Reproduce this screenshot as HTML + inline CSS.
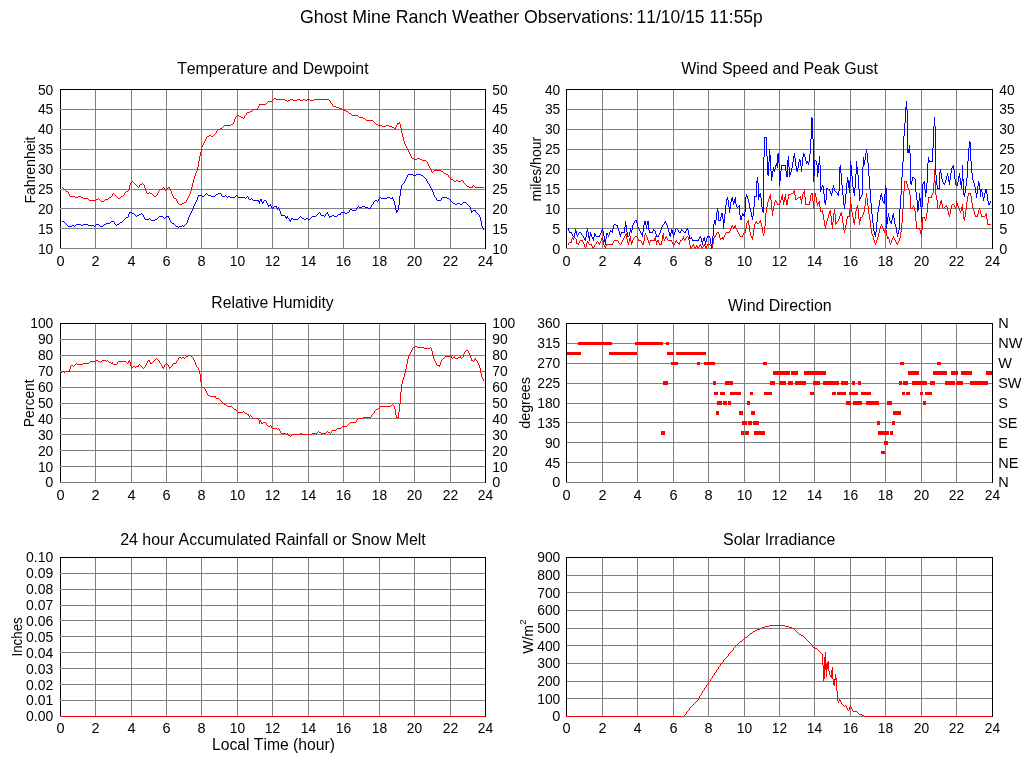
<!DOCTYPE html>
<html><head><meta charset="utf-8"><title>Ghost Mine Ranch Weather Observations</title>
<style>html,body{margin:0;padding:0;background:#fff;overflow:hidden}svg{display:block}text{font-family:"Liberation Sans",sans-serif;fill:#000;font-kerning:none}.t{font-size:14.5px}.h{font-size:16px}.y{font-size:14px}</style></head><body>
<svg width="1024" height="768" viewBox="0 0 1024 768">
<rect width="1024" height="768" fill="#fff"/>
<g shape-rendering="crispEdges" fill="none" stroke-width="1">
<path d="M95.5 90V249M131.5 90V249M166.5 90V249M201.5 90V249M237.5 90V249M272.5 90V249M308.5 90V249M343.5 90V249M379.5 90V249M414.5 90V249M450.5 90V249M60 248.5H485M61 228.5H485M61 208.5H485M61 189.5H485M61 169.5H485M61 149.5H485M61 129.5H485M61 109.5H485" stroke="#808080"/>
<path d="M602.5 90V249M637.5 90V249M673.5 90V249M708.5 90V249M744.5 90V249M779.5 90V249M814.5 90V249M850.5 90V249M885.5 90V249M921.5 90V249M956.5 90V249M566 248.5H992M567 228.5H992M567 208.5H992M567 189.5H992M567 169.5H992M567 149.5H992M567 129.5H992M567 109.5H992" stroke="#808080"/>
<path d="M95.5 324V483M131.5 324V483M166.5 324V483M201.5 324V483M237.5 324V483M272.5 324V483M308.5 324V483M343.5 324V483M379.5 324V483M414.5 324V483M450.5 324V483M60 482.5H485M61 466.5H485M61 450.5H485M61 434.5H485M61 418.5H485M61 403.5H485M61 387.5H485M61 371.5H485M61 355.5H485M61 339.5H485" stroke="#808080"/>
<path d="M602.5 324V483M637.5 324V483M673.5 324V483M708.5 324V483M744.5 324V483M779.5 324V483M814.5 324V483M850.5 324V483M885.5 324V483M921.5 324V483M956.5 324V483M566 482.5H992M567 462.5H992M567 442.5H992M567 422.5H992M567 403.5H992M567 383.5H992M567 363.5H992M567 343.5H992" stroke="#808080"/>
<path d="M95.5 558V717M131.5 558V717M166.5 558V717M201.5 558V717M237.5 558V717M272.5 558V717M308.5 558V717M343.5 558V717M379.5 558V717M414.5 558V717M450.5 558V717M60 716.5H485M61 700.5H485M61 684.5H485M61 668.5H485M61 652.5H485M61 636.5H485M61 620.5H485M61 605.5H485M61 589.5H485M61 573.5H485" stroke="#808080"/>
<path d="M602.5 558V717M637.5 558V717M673.5 558V717M708.5 558V717M744.5 558V717M779.5 558V717M814.5 558V717M850.5 558V717M885.5 558V717M921.5 558V717M956.5 558V717M566 716.5H992M567 698.5H992M567 681.5H992M567 663.5H992M567 645.5H992M567 628.5H992M567 610.5H992M567 592.5H992M567 575.5H992" stroke="#808080"/>
</g>
<g fill="none" stroke-width="1" stroke-linejoin="round" shape-rendering="crispEdges">
<path d="M568 228v3h1v-3zM569 231v2h1v-2zM571 232v2h1v-2zM572 234v2h1v-2zM574 233v4h1v-4zM575 229v4h1v-4zM576 231v4h1v-4zM577 235v2h1v-2zM578 233v2h1v-2zM581 233v2h1v-2zM583 236v2h1v-2zM584 238v2h1v-2zM585 237v4h1v-4zM586 231v6h1v-6zM587 228v4h1v-4zM588 232v6h1v-6zM589 236v5h1v-5zM590 232v4h1v-4zM591 234v3h1v-3zM592 237v2h1v-2zM593 237v4h1v-4zM594 233v4h1v-4zM595 234v2h1v-2zM599 235v2h1v-2zM600 233v2h1v-2zM601 230v3h1v-3zM602 228v3h1v-3zM603 231v5h1v-5zM604 236v6h1v-6zM605 239v6h1v-6zM606 233v6h1v-6zM607 233v2h1v-2zM608 235v2h1v-2zM609 232v3h1v-3zM610 230v2h1v-2zM612 229v4h1v-4zM613 225v4h1v-4zM617 225v3h1v-3zM618 228v3h1v-3zM619 231v4h1v-4zM620 234v3h1v-3zM621 232v2h1v-2zM624 227v6h1v-6zM625 221v6h1v-6zM626 225v7h1v-7zM627 232v5h1v-5zM629 232v4h1v-4zM630 228v4h1v-4zM631 230v3h1v-3zM632 225v5h1v-5zM633 223v2h1v-2zM634 221v2h1v-2zM636 220v3h1v-3zM637 223v4h1v-4zM638 227v2h1v-2zM639 229v2h1v-2zM640 231v2h1v-2zM641 233v2h1v-2zM642 232v5h1v-5zM643 225v7h1v-7zM644 221v4h1v-4zM645 221v4h1v-4zM646 225v4h1v-4zM647 221v4h1v-4zM648 221v9h1v-9zM649 230v3h1v-3zM652 231v2h1v-2zM653 229v2h1v-2zM655 231v3h1v-3zM656 234v3h1v-3zM658 235v2h1v-2zM659 233v2h1v-2zM660 230v3h1v-3zM661 227v3h1v-3zM662 225v2h1v-2zM664 222v2h1v-2zM665 221v2h1v-2zM666 223v2h1v-2zM667 225v3h1v-3zM668 228v4h1v-4zM669 232v4h1v-4zM670 233v4h1v-4zM671 229v4h1v-4zM672 230v4h1v-4zM673 234v3h1v-3zM674 232v3h1v-3zM675 229v3h1v-3zM678 230v2h1v-2zM680 231v2h1v-2zM681 229v2h1v-2zM685 231v2h1v-2zM686 229v2h1v-2zM687 228v2h1v-2zM688 230v5h1v-5zM689 235v4h1v-4zM691 237v2h1v-2zM692 239v2h1v-2zM698 239v2h1v-2zM699 237v2h1v-2zM700 236v2h1v-2zM701 238v4h1v-4zM702 241v4h1v-4zM703 238v3h1v-3zM704 237v4h1v-4zM705 241v4h1v-4zM706 238v4h1v-4zM707 236v2h1v-2zM709 236v2h1v-2zM710 238v6h1v-6zM711 244v5h1v-5zM712 236v10h1v-10zM713 224v12h1v-12zM714 220v4h1v-4zM715 220v5h1v-5zM716 212v8h1v-8zM717 208v4h1v-4zM718 211v10h1v-10zM720 217v4h1v-4zM721 213v4h1v-4zM722 213v6h1v-6zM723 219v10h1v-10zM724 214v9h1v-9zM725 205v9h1v-9zM726 199v6h1v-6zM727 197v3h1v-3zM728 200v7h1v-7zM729 207v6h1v-6zM730 202v7h1v-7zM731 198v4h1v-4zM732 197v4h1v-4zM733 201v4h1v-4zM734 199v4h1v-4zM735 197v7h1v-7zM736 204v3h1v-3zM739 205v10h1v-10zM740 215v5h1v-5zM741 216v4h1v-4zM742 213v3h1v-3zM743 214v2h1v-2zM744 212v5h1v-5zM745 197v15h1v-15zM746 194v3h1v-3zM747 196v3h1v-3zM748 199v4h1v-4zM749 203v5h1v-5zM750 208v4h1v-4zM751 212v5h1v-5zM752 216v4h1v-4zM753 207v9h1v-9zM754 196v11h1v-11zM756 181v16h1v-16zM757 177v6h1v-6zM758 183v17h1v-17zM759 194v3h1v-3zM760 193v5h1v-5zM761 198v9h1v-9zM762 207v5h1v-5zM763 157v56h1v-56zM764 137v20h1v-20zM766 137v19h1v-19zM767 156v19h1v-19zM768 162v14h1v-14zM769 149v13h1v-13zM770 155v16h1v-16zM771 171v10h1v-10zM772 171v6h1v-6zM773 167v4h1v-4zM774 169v3h1v-3zM775 165v4h1v-4zM776 163v3h1v-3zM777 154v14h1v-14zM778 153v10h1v-10zM779 163v23h1v-23zM780 171v10h1v-10zM781 165v6h1v-6zM785 165v6h1v-6zM786 171v6h1v-6zM787 160v17h1v-17zM788 156v11h1v-11zM789 167v10h1v-10zM790 172v3h1v-3zM791 168v4h1v-4zM792 162v6h1v-6zM793 156v6h1v-6zM794 153v5h1v-5zM795 158v8h1v-8zM796 166v5h1v-5zM797 168v4h1v-4zM798 162v6h1v-6zM799 159v3h1v-3zM800 160v6h1v-6zM801 166v6h1v-6zM802 157v9h1v-9zM803 153v4h1v-4zM804 154v3h1v-3zM805 157v4h1v-4zM806 161v3h1v-3zM807 161v2h1v-2zM808 162v3h1v-3zM809 154v8h1v-8zM810 139v15h1v-15zM811 117v22h1v-22zM812 118v21h1v-21zM813 139v43h1v-43zM814 160v16h1v-16zM816 161v4h1v-4zM817 165v12h1v-12zM818 163v10h1v-10zM819 156v9h1v-9zM820 165v27h1v-27zM821 187v3h1v-3zM822 185v2h1v-2zM823 186v8h1v-8zM824 194v9h1v-9zM825 200v5h1v-5zM826 188v12h1v-12zM829 189v2h1v-2zM830 191v3h1v-3zM831 193v3h1v-3zM832 188v5h1v-5zM833 185v3h1v-3zM834 188v3h1v-3zM837 193v2h1v-2zM838 191v5h1v-5zM839 167v24h1v-24zM840 165v8h1v-8zM841 173v12h1v-12zM842 185v10h1v-10zM843 195v10h1v-10zM844 204v5h1v-5zM845 194v10h1v-10zM846 183v11h1v-11zM847 177v6h1v-6zM848 180v8h1v-8zM849 181v12h1v-12zM850 161v20h1v-20zM851 165v11h1v-11zM852 176v11h1v-11zM853 187v6h1v-6zM854 188v8h1v-8zM855 174v14h1v-14zM856 161v13h1v-13zM857 167v8h1v-8zM858 175v14h1v-14zM859 189v12h1v-12zM860 197v2h1v-2zM861 195v2h1v-2zM862 167v28h1v-28zM863 157v10h1v-10zM864 160v5h1v-5zM865 153v7h1v-7zM866 149v4h1v-4zM867 153v10h1v-10zM868 163v13h1v-13zM869 176v13h1v-13zM870 189v14h1v-14zM871 203v11h1v-11zM872 214v9h1v-9zM873 223v8h1v-8zM874 231v4h1v-4zM875 232v5h1v-5zM876 222v10h1v-10zM877 212v10h1v-10zM878 206v6h1v-6zM879 200v6h1v-6zM880 195v5h1v-5zM881 193v4h1v-4zM882 197v4h1v-4zM883 201v2h1v-2zM884 194v10h1v-10zM885 185v9h1v-9zM886 188v41h1v-41zM887 217v7h1v-7zM888 213v4h1v-4zM889 217v4h1v-4zM890 221v2h1v-2zM891 220v4h1v-4zM892 215v5h1v-5zM893 213v5h1v-5zM894 218v6h1v-6zM895 224v3h1v-3zM896 227v6h1v-6zM897 233v4h1v-4zM898 230v4h1v-4zM899 209v21h1v-21zM900 195v14h1v-14zM901 177v18h1v-18zM902 162v15h1v-15zM903 136v26h1v-26zM904 123v13h1v-13zM905 107v16h1v-16zM906 101v9h1v-9zM907 110v43h1v-43zM908 149v4h1v-4zM909 145v8h1v-8zM910 153v31h1v-31zM911 181v4h1v-4zM912 177v4h1v-4zM915 179v13h1v-13zM916 192v8h1v-8zM917 200v12h1v-12zM918 201v9h1v-9zM919 193v8h1v-8zM920 198v9h1v-9zM921 207v15h1v-15zM922 184v23h1v-23zM923 182v2h1v-2zM924 181v8h1v-8zM925 189v8h1v-8zM926 183v10h1v-10zM927 163v20h1v-20zM928 157v6h1v-6zM929 160v2h1v-2zM932 148v14h1v-14zM933 126v22h1v-22zM934 117v9h1v-9zM935 126v49h1v-49zM936 175v10h1v-10zM937 185v4h1v-4zM939 172v17h1v-17zM940 169v4h1v-4zM941 173v6h1v-6zM942 179v3h1v-3zM943 182v2h1v-2zM944 183v2h1v-2zM945 180v3h1v-3zM946 176v4h1v-4zM947 173v3h1v-3zM948 176v6h1v-6zM949 180v5h1v-5zM950 173v7h1v-7zM951 168v5h1v-5zM952 166v2h1v-2zM953 165v5h1v-5zM954 170v9h1v-9zM955 179v6h1v-6zM957 182v4h1v-4zM958 176v6h1v-6zM959 173v5h1v-5zM960 178v7h1v-7zM961 181v8h1v-8zM962 165v16h1v-16zM963 179v16h1v-16zM964 193v4h1v-4zM965 186v7h1v-7zM966 178v8h1v-8zM967 161v17h1v-17zM968 148v13h1v-13zM969 141v7h1v-7zM970 142v19h1v-19zM971 161v12h1v-12zM972 173v7h1v-7zM973 180v3h1v-3zM974 183v4h1v-4zM975 187v6h1v-6zM976 193v5h1v-5zM977 186v8h1v-8zM978 181v5h1v-5zM979 183v7h1v-7zM980 189v8h1v-8zM981 189v3h1v-3zM982 192v5h1v-5zM983 197v4h1v-4zM984 193v5h1v-5zM985 189v4h1v-4zM986 189v5h1v-5zM987 194v7h1v-7zM988 201v4h1v-4zM989 203v2h1v-2zM990 201v2h1v-2zM765 137h1v1h-1zM815 160h1v1h-1zM930 161h2v1h-2zM782 165h3v1h-3zM913 177h1v1h-1zM914 178h1v1h-1zM956 185h1v1h-1zM827 188h1v1h-1zM938 188h1v1h-1zM828 189h1v1h-1zM835 191h1v1h-1zM836 192h1v1h-1zM755 196h1v1h-1zM738 206h1v1h-1zM737 207h1v1h-1zM635 220h1v1h-1zM719 220h1v1h-1zM614 224h2v1h-2zM663 224h1v1h-1zM616 225h1v1h-1zM676 228h1v1h-1zM677 229h1v1h-1zM654 230h1v1h-1zM682 230h1v1h-1zM611 231h1v1h-1zM683 231h1v1h-1zM570 232h1v1h-1zM579 232h2v1h-2zM622 232h2v1h-2zM650 232h2v1h-2zM679 232h1v1h-1zM684 232h1v1h-1zM582 235h1v1h-1zM573 236h1v1h-1zM596 236h3v1h-3zM628 236h1v1h-1zM657 236h1v1h-1zM708 236h1v1h-1zM690 238h1v1h-1zM693 240h5v1h-5z" fill="#0000ff" stroke="none"/>
<path d="M568 243v2h1v-2zM571 239v4h1v-4zM572 237v2h1v-2zM573 238v2h1v-2zM576 239v5h1v-5zM578 243v2h1v-2zM579 241v2h1v-2zM582 240v2h1v-2zM583 242v2h1v-2zM584 244v3h1v-3zM585 247v2h1v-2zM586 243v4h1v-4zM587 241v2h1v-2zM588 242v2h1v-2zM591 244v2h1v-2zM592 246v2h1v-2zM593 247v2h1v-2zM594 245v2h1v-2zM596 242v2h1v-2zM598 242v2h1v-2zM599 243v2h1v-2zM600 241v2h1v-2zM601 238v3h1v-3zM602 236v4h1v-4zM603 240v5h1v-5zM604 245v2h1v-2zM605 246v3h1v-3zM606 244v2h1v-2zM612 243v2h1v-2zM613 241v2h1v-2zM618 241v2h1v-2zM621 242v2h1v-2zM622 240v2h1v-2zM623 238v2h1v-2zM624 236v2h1v-2zM625 234v2h1v-2zM626 233v6h1v-6zM627 239v4h1v-4zM628 242v3h1v-3zM629 238v4h1v-4zM630 236v5h1v-5zM631 241v4h1v-4zM632 240v3h1v-3zM633 238v2h1v-2zM637 237v2h1v-2zM638 239v2h1v-2zM641 241v2h1v-2zM642 243v2h1v-2zM643 241v4h1v-4zM644 235v6h1v-6zM645 233v2h1v-2zM646 235v2h1v-2zM647 237v3h1v-3zM648 240v3h1v-3zM649 242v3h1v-3zM650 240v2h1v-2zM654 238v3h1v-3zM655 236v5h1v-5zM656 241v4h1v-4zM657 240v2h1v-2zM658 240v3h1v-3zM659 243v2h1v-2zM661 241v4h1v-4zM662 235v6h1v-6zM663 233v6h1v-6zM664 239v2h1v-2zM665 237v2h1v-2zM666 236v2h1v-2zM667 238v2h1v-2zM671 240v2h1v-2zM672 242v2h1v-2zM674 243v2h1v-2zM675 241v2h1v-2zM676 240v2h1v-2zM679 242v3h1v-3zM680 240v2h1v-2zM682 238v2h1v-2zM683 236v3h1v-3zM684 239v2h1v-2zM685 238v2h1v-2zM688 237v3h1v-3zM689 240v5h1v-5zM690 245v4h1v-4zM691 247v2h1v-2zM692 245v2h1v-2zM693 244v2h1v-2zM694 246v2h1v-2zM695 247v2h1v-2zM696 245v2h1v-2zM697 246v2h1v-2zM698 247v2h1v-2zM699 245v2h1v-2zM700 244v2h1v-2zM701 246v2h1v-2zM702 247v2h1v-2zM703 245v2h1v-2zM704 244v2h1v-2zM705 246v2h1v-2zM706 246v3h1v-3zM707 244v2h1v-2zM712 244v4h1v-4zM713 238v6h1v-6zM714 236v2h1v-2zM715 235v2h1v-2zM716 233v2h1v-2zM718 232v2h1v-2zM719 234v4h1v-4zM720 238v2h1v-2zM722 237v2h1v-2zM723 237v3h1v-3zM724 235v2h1v-2zM725 233v2h1v-2zM729 231v2h1v-2zM730 228v3h1v-3zM731 226v2h1v-2zM732 225v2h1v-2zM733 227v2h1v-2zM734 226v2h1v-2zM735 225v3h1v-3zM736 228v2h1v-2zM737 230v2h1v-2zM738 232v2h1v-2zM739 234v2h1v-2zM742 235v2h1v-2zM743 233v2h1v-2zM745 228v5h1v-5zM746 223v5h1v-5zM747 221v2h1v-2zM748 220v5h1v-5zM749 225v7h1v-7zM750 232v4h1v-4zM751 236v2h1v-2zM752 236v4h1v-4zM753 229v7h1v-7zM754 224v5h1v-5zM755 222v2h1v-2zM756 221v2h1v-2zM759 221v2h1v-2zM760 220v3h1v-3zM761 223v4h1v-4zM762 227v6h1v-6zM763 233v3h1v-3zM764 226v7h1v-7zM765 213v13h1v-13zM766 207v6h1v-6zM767 202v5h1v-5zM768 199v3h1v-3zM769 196v3h1v-3zM770 194v6h1v-6zM771 200v10h1v-10zM772 210v6h1v-6zM773 206v5h1v-5zM774 202v4h1v-4zM775 200v2h1v-2zM776 201v2h1v-2zM777 203v2h1v-2zM779 203v2h1v-2zM780 200v3h1v-3zM781 196v4h1v-4zM782 194v6h1v-6zM783 200v5h1v-5zM784 197v5h1v-5zM785 194v6h1v-6zM786 200v5h1v-5zM787 199v6h1v-6zM788 194v5h1v-5zM793 191v2h1v-2zM794 190v5h1v-5zM795 195v5h1v-5zM800 196v4h1v-4zM801 199v5h1v-5zM802 194v5h1v-5zM803 192v2h1v-2zM804 189v8h1v-8zM805 197v8h1v-8zM809 201v4h1v-4zM810 195v6h1v-6zM811 193v2h1v-2zM812 193v8h1v-8zM813 201v8h1v-8zM814 193v8h1v-8zM815 193v4h1v-4zM816 197v6h1v-6zM817 203v3h1v-3zM818 202v2h1v-2zM819 201v6h1v-6zM820 207v5h1v-5zM822 210v4h1v-4zM823 214v6h1v-6zM824 220v6h1v-6zM825 225v4h1v-4zM826 221v4h1v-4zM827 218v3h1v-3zM828 214v4h1v-4zM829 211v3h1v-3zM830 210v6h1v-6zM831 216v9h1v-9zM832 222v7h1v-7zM833 213v9h1v-9zM834 209v5h1v-5zM835 214v11h1v-11zM836 222v2h1v-2zM838 219v2h1v-2zM839 216v3h1v-3zM840 213v3h1v-3zM841 212v4h1v-4zM842 216v7h1v-7zM843 223v7h1v-7zM844 230v3h1v-3zM845 225v5h1v-5zM846 219v6h1v-6zM847 216v3h1v-3zM849 209v8h1v-8zM850 197v12h1v-12zM851 204v8h1v-8zM852 212v5h1v-5zM853 217v6h1v-6zM854 219v6h1v-6zM855 211v8h1v-8zM856 207v4h1v-4zM857 205v4h1v-4zM858 209v10h1v-10zM859 219v6h1v-6zM860 217v4h1v-4zM862 215v2h1v-2zM863 212v3h1v-3zM864 206v6h1v-6zM865 198v8h1v-8zM866 193v5h1v-5zM867 198v8h1v-8zM868 206v8h1v-8zM869 214v6h1v-6zM870 220v8h1v-8zM871 228v6h1v-6zM872 234v2h1v-2zM873 236v4h1v-4zM874 240v3h1v-3zM875 243v2h1v-2zM876 240v3h1v-3zM877 237v3h1v-3zM878 233v4h1v-4zM879 229v4h1v-4zM880 226v3h1v-3zM881 224v2h1v-2zM882 226v2h1v-2zM883 228v3h1v-3zM884 230v3h1v-3zM885 227v3h1v-3zM886 230v6h1v-6zM887 236v3h1v-3zM888 237v2h1v-2zM889 239v4h1v-4zM890 243v2h1v-2zM891 240v3h1v-3zM892 238v2h1v-2zM893 236v2h1v-2zM894 238v2h1v-2zM895 240v2h1v-2zM896 242v2h1v-2zM897 243v2h1v-2zM898 241v2h1v-2zM899 238v3h1v-3zM900 232v6h1v-6zM901 223v9h1v-9zM902 209v14h1v-14zM903 191v18h1v-18zM904 181v10h1v-10zM906 181v3h1v-3zM907 184v4h1v-4zM908 188v2h1v-2zM909 190v5h1v-5zM910 195v14h1v-14zM912 207v2h1v-2zM913 205v2h1v-2zM914 207v4h1v-4zM915 211v10h1v-10zM916 221v8h1v-8zM919 228v2h1v-2zM920 230v4h1v-4zM921 230v7h1v-7zM922 217v13h1v-13zM924 217v2h1v-2zM925 219v2h1v-2zM926 213v6h1v-6zM927 203v10h1v-10zM928 197v6h1v-6zM931 195v3h1v-3zM932 193v2h1v-2zM933 183v10h1v-10zM934 169v14h1v-14zM935 181v14h1v-14zM936 195v5h1v-5zM937 200v9h1v-9zM939 205v4h1v-4zM940 201v4h1v-4zM941 200v4h1v-4zM942 204v4h1v-4zM946 205v2h1v-2zM947 207v4h1v-4zM948 211v4h1v-4zM949 214v3h1v-3zM950 209v5h1v-5zM951 205v4h1v-4zM954 205v2h1v-2zM955 207v2h1v-2zM956 201v6h1v-6zM957 203v3h1v-3zM958 206v2h1v-2zM959 208v3h1v-3zM960 211v2h1v-2zM961 207v4h1v-4zM962 204v7h1v-7zM963 211v8h1v-8zM964 217v4h1v-4zM965 210v7h1v-7zM966 202v8h1v-8zM967 196v6h1v-6zM968 193v3h1v-3zM970 193v3h1v-3zM971 196v7h1v-7zM972 203v5h1v-5zM973 208v3h1v-3zM974 211v4h1v-4zM975 215v2h1v-2zM977 214v3h1v-3zM978 210v4h1v-4zM979 208v2h1v-2zM980 210v4h1v-4zM981 214v3h1v-3zM985 214v2h1v-2zM986 213v6h1v-6zM987 219v6h1v-6zM905 181h1v1h-1zM791 193h2v1h-2zM969 193h1v1h-1zM789 194h2v1h-2zM798 197h2v1h-2zM929 197h2v1h-2zM797 198h1v1h-1zM796 199h1v1h-1zM778 204h1v1h-1zM806 204h3v1h-3zM952 204h2v1h-2zM945 206h1v1h-1zM944 207h1v1h-1zM911 208h1v1h-1zM938 208h1v1h-1zM943 208h1v1h-1zM821 211h1v1h-1zM848 216h1v1h-1zM976 216h1v1h-1zM982 216h3v1h-3zM861 217h1v1h-1zM923 217h1v1h-1zM837 221h1v1h-1zM757 223h2v1h-2zM988 224h3v1h-3zM917 228h2v1h-2zM717 232h1v1h-1zM726 232h3v1h-3zM744 232h1v1h-1zM635 236h2v1h-2zM687 236h1v1h-1zM740 236h2v1h-2zM574 237h1v1h-1zM634 237h1v1h-1zM686 237h1v1h-1zM575 238h1v1h-1zM721 238h1v1h-1zM580 240h2v1h-2zM614 240h4v1h-4zM639 240h2v1h-2zM651 240h3v1h-3zM668 240h3v1h-3zM681 240h1v1h-1zM597 241h1v1h-1zM569 242h2v1h-2zM677 242h1v1h-1zM577 243h1v1h-1zM619 243h1v1h-1zM678 243h1v1h-1zM589 244h2v1h-2zM595 244h1v1h-1zM607 244h5v1h-5zM620 244h1v1h-1zM660 244h1v1h-1zM673 244h1v1h-1zM708 244h2v1h-2zM710 245h1v1h-1zM711 246h1v1h-1z" fill="#ff0000" stroke="none"/>
<path d="M686 712v2h1v-2zM689 708v2h1v-2zM698 698v2h1v-2zM699 696v2h1v-2zM701 693v2h1v-2zM702 691v2h1v-2zM704 688v2h1v-2zM706 685v2h1v-2zM708 682v2h1v-2zM710 679v2h1v-2zM712 676v2h1v-2zM714 673v2h1v-2zM716 670v2h1v-2zM718 667v2h1v-2zM720 664v2h1v-2zM723 660v2h1v-2zM728 654v2h1v-2zM733 648v2h1v-2zM812 645v2h1v-2zM822 654v11h1v-11zM823 665v16h1v-16zM824 657v22h1v-22zM825 652v18h1v-18zM826 664v13h1v-13zM827 662v7h1v-7zM828 661v10h1v-10zM829 671v4h1v-4zM830 675v2h1v-2zM831 670v8h1v-8zM832 667v12h1v-12zM833 679v6h1v-6zM834 679v7h1v-7zM835 674v6h1v-6zM836 678v13h1v-13zM837 691v10h1v-10zM838 701v2h1v-2zM839 699v2h1v-2zM840 700v2h1v-2zM841 702v2h1v-2zM846 706v2h1v-2zM847 708v2h1v-2zM849 707v3h1v-3zM850 705v2h1v-2zM851 707v2h1v-2zM852 709v2h1v-2zM769 625h16v1h-16zM765 626h4v1h-4zM785 626h4v1h-4zM762 627h3v1h-3zM789 627h3v1h-3zM760 628h2v1h-2zM792 628h2v1h-2zM757 629h3v1h-3zM794 629h1v1h-1zM755 630h2v1h-2zM795 630h1v1h-1zM753 631h2v1h-2zM796 631h1v1h-1zM752 632h1v1h-1zM797 632h1v1h-1zM750 633h2v1h-2zM798 633h1v1h-1zM749 634h1v1h-1zM799 634h2v1h-2zM748 635h1v1h-1zM801 635h2v1h-2zM747 636h1v1h-1zM803 636h1v1h-1zM745 637h2v1h-2zM804 637h1v1h-1zM744 638h1v1h-1zM805 638h1v1h-1zM743 639h1v1h-1zM806 639h1v1h-1zM742 640h1v1h-1zM807 640h1v1h-1zM740 641h2v1h-2zM808 641h1v1h-1zM739 642h1v1h-1zM809 642h1v1h-1zM738 643h1v1h-1zM810 643h1v1h-1zM737 644h1v1h-1zM811 644h1v1h-1zM736 645h1v1h-1zM735 646h1v1h-1zM734 647h1v1h-1zM813 647h2v1h-2zM815 648h2v1h-2zM817 649h1v1h-1zM732 650h1v1h-1zM818 650h1v1h-1zM731 651h1v1h-1zM819 651h1v1h-1zM730 652h1v1h-1zM820 652h1v1h-1zM729 653h1v1h-1zM821 653h1v1h-1zM727 656h1v1h-1zM726 657h1v1h-1zM725 658h1v1h-1zM724 659h1v1h-1zM722 662h1v1h-1zM721 663h1v1h-1zM719 666h1v1h-1zM717 669h1v1h-1zM715 672h1v1h-1zM713 675h1v1h-1zM711 678h1v1h-1zM709 681h1v1h-1zM707 684h1v1h-1zM705 687h1v1h-1zM703 690h1v1h-1zM700 695h1v1h-1zM697 700h1v1h-1zM696 701h1v1h-1zM695 702h1v1h-1zM694 703h1v1h-1zM693 704h1v1h-1zM842 704h1v1h-1zM692 705h1v1h-1zM843 705h1v1h-1zM845 705h1v1h-1zM691 706h1v1h-1zM844 706h1v1h-1zM690 707h1v1h-1zM688 710h1v1h-1zM848 710h1v1h-1zM687 711h1v1h-1zM853 711h4v1h-4zM857 712h1v1h-1zM858 713h1v1h-1zM685 714h1v1h-1zM859 714h3v1h-3zM684 715h1v1h-1zM862 715h2v1h-2zM566 716h118v1h-118zM864 716h129v1h-129z" fill="#ff0000" stroke="none"/>
<path d="M114 222v2h1v-2zM128 214v3h1v-3zM129 212v2h1v-2zM143 215v2h1v-2zM144 217v2h1v-2zM168 216v2h1v-2zM169 218v2h1v-2zM170 220v2h1v-2zM187 220v3h1v-3zM188 217v3h1v-3zM189 215v2h1v-2zM190 213v2h1v-2zM191 211v2h1v-2zM192 209v2h1v-2zM193 206v3h1v-3zM194 204v2h1v-2zM195 202v2h1v-2zM196 200v2h1v-2zM197 197v3h1v-3zM198 195v2h1v-2zM221 194v2h1v-2zM248 197v2h1v-2zM258 200v2h1v-2zM259 201v3h1v-3zM260 199v2h1v-2zM261 199v3h1v-3zM262 202v2h1v-2zM263 201v2h1v-2zM266 201v2h1v-2zM267 203v2h1v-2zM268 205v2h1v-2zM270 204v2h1v-2zM271 206v2h1v-2zM276 206v2h1v-2zM277 208v2h1v-2zM278 207v2h1v-2zM279 209v2h1v-2zM280 211v3h1v-3zM281 214v2h1v-2zM285 216v2h1v-2zM286 217v2h1v-2zM287 216v2h1v-2zM289 219v2h1v-2zM290 220v2h1v-2zM291 218v2h1v-2zM320 213v2h1v-2zM325 214v2h1v-2zM327 212v2h1v-2zM328 214v2h1v-2zM329 216v2h1v-2zM340 213v2h1v-2zM349 210v2h1v-2zM356 208v2h1v-2zM370 207v2h1v-2zM371 205v2h1v-2zM373 202v2h1v-2zM378 199v2h1v-2zM392 197v2h1v-2zM393 199v2h1v-2zM394 201v4h1v-4zM395 205v5h1v-5zM396 210v3h1v-3zM397 210v2h1v-2zM398 205v5h1v-5zM399 196v9h1v-9zM400 189v7h1v-7zM401 185v4h1v-4zM404 181v2h1v-2zM405 179v2h1v-2zM406 177v2h1v-2zM407 175v2h1v-2zM426 179v2h1v-2zM427 181v2h1v-2zM429 184v2h1v-2zM430 186v2h1v-2zM431 188v2h1v-2zM432 190v2h1v-2zM433 192v3h1v-3zM434 195v2h1v-2zM436 198v2h1v-2zM441 198v2h1v-2zM470 207v3h1v-3zM471 210v3h1v-3zM475 210v2h1v-2zM479 215v2h1v-2zM480 217v4h1v-4zM481 221v5h1v-5zM482 226v2h1v-2zM483 228v2h1v-2zM408 174h5v1h-5zM416 174h5v1h-5zM413 175h3v1h-3zM421 175h2v1h-2zM423 176h1v1h-1zM424 177h1v1h-1zM425 178h1v1h-1zM403 183h1v1h-1zM428 183h1v1h-1zM402 184h1v1h-1zM206 193h1v1h-1zM218 193h3v1h-3zM205 194h1v1h-1zM207 194h1v1h-1zM216 194h2v1h-2zM199 195h3v1h-3zM204 195h1v1h-1zM208 195h3v1h-3zM215 195h1v1h-1zM225 195h1v1h-1zM236 195h1v1h-1zM202 196h2v1h-2zM211 196h4v1h-4zM222 196h3v1h-3zM226 196h1v1h-1zM228 196h2v1h-2zM235 196h1v1h-1zM237 196h1v1h-1zM247 196h1v1h-1zM227 197h1v1h-1zM230 197h5v1h-5zM238 197h7v1h-7zM246 197h1v1h-1zM380 197h1v1h-1zM387 197h3v1h-3zM435 197h1v1h-1zM442 197h5v1h-5zM245 198h1v1h-1zM251 198h1v1h-1zM379 198h1v1h-1zM381 198h6v1h-6zM390 198h2v1h-2zM447 198h2v1h-2zM249 199h2v1h-2zM252 199h1v1h-1zM449 199h1v1h-1zM253 200h5v1h-5zM264 200h2v1h-2zM375 200h2v1h-2zM437 200h4v1h-4zM450 200h1v1h-1zM374 201h1v1h-1zM377 201h1v1h-1zM451 201h1v1h-1zM452 202h1v1h-1zM463 202h3v1h-3zM453 203h2v1h-2zM457 203h3v1h-3zM462 203h1v1h-1zM466 203h1v1h-1zM372 204h1v1h-1zM455 204h2v1h-2zM460 204h2v1h-2zM467 204h1v1h-1zM269 205h1v1h-1zM468 205h1v1h-1zM274 206h2v1h-2zM358 206h1v1h-1zM362 206h3v1h-3zM469 206h1v1h-1zM273 207h1v1h-1zM357 207h1v1h-1zM359 207h3v1h-3zM365 207h3v1h-3zM272 208h1v1h-1zM368 208h2v1h-2zM350 209h2v1h-2zM352 210h4v1h-4zM473 210h2v1h-2zM472 211h1v1h-1zM130 212h2v1h-2zM319 212h1v1h-1zM341 212h4v1h-4zM347 212h2v1h-2zM476 212h1v1h-1zM132 213h2v1h-2zM141 213h1v1h-1zM318 213h1v1h-1zM326 213h1v1h-1zM345 213h2v1h-2zM477 213h1v1h-1zM134 214h1v1h-1zM139 214h2v1h-2zM142 214h1v1h-1zM317 214h1v1h-1zM338 214h2v1h-2zM478 214h1v1h-1zM135 215h1v1h-1zM137 215h2v1h-2zM282 215h3v1h-3zM316 215h1v1h-1zM321 215h3v1h-3zM332 215h2v1h-2zM337 215h1v1h-1zM136 216h1v1h-1zM159 216h4v1h-4zM166 216h2v1h-2zM300 216h1v1h-1zM312 216h4v1h-4zM324 216h1v1h-1zM330 216h2v1h-2zM334 216h3v1h-3zM126 217h2v1h-2zM158 217h1v1h-1zM163 217h1v1h-1zM165 217h1v1h-1zM299 217h1v1h-1zM301 217h1v1h-1zM311 217h1v1h-1zM125 218h1v1h-1zM149 218h1v1h-1zM157 218h1v1h-1zM164 218h1v1h-1zM288 218h1v1h-1zM292 218h1v1h-1zM298 218h1v1h-1zM302 218h2v1h-2zM306 218h2v1h-2zM310 218h1v1h-1zM124 219h1v1h-1zM145 219h4v1h-4zM150 219h1v1h-1zM155 219h2v1h-2zM293 219h5v1h-5zM304 219h2v1h-2zM308 219h2v1h-2zM123 220h1v1h-1zM151 220h4v1h-4zM62 221h2v1h-2zM111 221h3v1h-3zM122 221h1v1h-1zM64 222h1v1h-1zM110 222h1v1h-1zM120 222h2v1h-2zM171 222h1v1h-1zM65 223h1v1h-1zM106 223h4v1h-4zM119 223h1v1h-1zM172 223h2v1h-2zM186 223h1v1h-1zM66 224h1v1h-1zM76 224h5v1h-5zM83 224h5v1h-5zM96 224h3v1h-3zM104 224h2v1h-2zM115 224h1v1h-1zM117 224h2v1h-2zM174 224h1v1h-1zM185 224h1v1h-1zM67 225h1v1h-1zM72 225h2v1h-2zM75 225h1v1h-1zM81 225h2v1h-2zM88 225h6v1h-6zM95 225h1v1h-1zM99 225h1v1h-1zM103 225h1v1h-1zM116 225h1v1h-1zM175 225h1v1h-1zM182 225h1v1h-1zM184 225h1v1h-1zM68 226h4v1h-4zM74 226h1v1h-1zM94 226h1v1h-1zM100 226h3v1h-3zM176 226h2v1h-2zM179 226h3v1h-3zM183 226h1v1h-1zM178 227h1v1h-1z" fill="#0000ff" stroke="none"/>
<path d="M68 192v2h1v-2zM69 194v2h1v-2zM112 194v2h1v-2zM124 193v2h1v-2zM128 189v2h1v-2zM129 185v4h1v-4zM130 183v2h1v-2zM139 185v2h1v-2zM144 185v3h1v-3zM145 188v3h1v-3zM146 191v2h1v-2zM157 193v2h1v-2zM158 191v2h1v-2zM164 188v2h1v-2zM169 187v2h1v-2zM170 189v2h1v-2zM171 191v3h1v-3zM172 194v2h1v-2zM173 196v2h1v-2zM176 199v2h1v-2zM177 201v2h1v-2zM186 200v2h1v-2zM187 198v2h1v-2zM188 196v2h1v-2zM189 194v2h1v-2zM190 191v3h1v-3zM191 187v4h1v-4zM192 183v4h1v-4zM193 179v4h1v-4zM194 176v3h1v-3zM195 173v3h1v-3zM196 171v2h1v-2zM197 167v4h1v-4zM198 161v6h1v-6zM199 156v5h1v-5zM200 152v4h1v-4zM201 147v5h1v-5zM202 145v2h1v-2zM203 143v2h1v-2zM204 141v2h1v-2zM205 139v2h1v-2zM206 137v2h1v-2zM216 131v2h1v-2zM233 122v2h1v-2zM234 119v3h1v-3zM235 117v2h1v-2zM244 116v2h1v-2zM246 113v2h1v-2zM257 108v2h1v-2zM258 106v2h1v-2zM259 104v2h1v-2zM330 101v2h1v-2zM332 104v2h1v-2zM395 127v2h1v-2zM396 125v2h1v-2zM397 123v2h1v-2zM399 122v2h1v-2zM400 124v4h1v-4zM401 128v5h1v-5zM402 133v4h1v-4zM403 137v4h1v-4zM404 141v3h1v-3zM405 144v2h1v-2zM406 146v2h1v-2zM407 148v2h1v-2zM408 150v2h1v-2zM409 152v2h1v-2zM410 154v2h1v-2zM411 156v2h1v-2zM427 162v2h1v-2zM428 164v2h1v-2zM429 166v2h1v-2zM430 168v2h1v-2zM431 170v2h1v-2zM448 175v2h1v-2zM463 181v2h1v-2zM472 186v2h1v-2zM274 98h2v1h-2zM273 99h1v1h-1zM276 99h9v1h-9zM290 99h3v1h-3zM297 99h3v1h-3zM303 99h2v1h-2zM307 99h3v1h-3zM314 99h15v1h-15zM272 100h1v1h-1zM285 100h2v1h-2zM288 100h2v1h-2zM293 100h4v1h-4zM300 100h3v1h-3zM305 100h2v1h-2zM310 100h4v1h-4zM329 100h1v1h-1zM268 101h4v1h-4zM287 101h1v1h-1zM267 102h1v1h-1zM266 103h1v1h-1zM331 103h1v1h-1zM260 104h6v1h-6zM333 106h3v1h-3zM336 107h3v1h-3zM339 108h3v1h-3zM253 109h4v1h-4zM342 109h2v1h-2zM252 110h1v1h-1zM344 110h2v1h-2zM250 111h2v1h-2zM346 111h2v1h-2zM247 112h3v1h-3zM348 112h1v1h-1zM349 113h2v1h-2zM351 114h1v1h-1zM237 115h2v1h-2zM245 115h1v1h-1zM352 115h6v1h-6zM236 116h1v1h-1zM239 116h2v1h-2zM358 116h1v1h-1zM241 117h2v1h-2zM359 117h4v1h-4zM243 118h1v1h-1zM363 118h2v1h-2zM365 119h1v1h-1zM366 120h7v1h-7zM373 121h1v1h-1zM374 122h1v1h-1zM375 123h1v1h-1zM398 123h1v1h-1zM231 124h2v1h-2zM376 124h2v1h-2zM224 125h7v1h-7zM378 125h4v1h-4zM386 125h3v1h-3zM223 126h1v1h-1zM382 126h4v1h-4zM389 126h3v1h-3zM222 127h1v1h-1zM392 127h2v1h-2zM220 128h2v1h-2zM394 128h1v1h-1zM218 129h2v1h-2zM217 130h1v1h-1zM215 133h1v1h-1zM214 134h1v1h-1zM209 135h2v1h-2zM213 135h1v1h-1zM207 136h2v1h-2zM211 136h2v1h-2zM412 158h2v1h-2zM417 158h3v1h-3zM414 159h3v1h-3zM420 159h2v1h-2zM422 160h4v1h-4zM426 161h1v1h-1zM434 170h7v1h-7zM433 171h1v1h-1zM441 171h2v1h-2zM432 172h1v1h-1zM443 172h1v1h-1zM444 173h2v1h-2zM446 174h2v1h-2zM449 177h1v1h-1zM450 178h1v1h-1zM451 179h2v1h-2zM453 180h1v1h-1zM456 180h2v1h-2zM461 180h2v1h-2zM132 181h1v1h-1zM454 181h2v1h-2zM458 181h3v1h-3zM131 182h1v1h-1zM133 182h1v1h-1zM134 183h1v1h-1zM142 183h1v1h-1zM464 183h1v1h-1zM135 184h1v1h-1zM140 184h2v1h-2zM143 184h1v1h-1zM465 184h1v1h-1zM136 185h1v1h-1zM466 185h1v1h-1zM473 185h1v1h-1zM137 186h1v1h-1zM467 186h2v1h-2zM474 186h1v1h-1zM62 187h1v1h-1zM138 187h1v1h-1zM163 187h1v1h-1zM168 187h1v1h-1zM469 187h3v1h-3zM475 187h9v1h-9zM63 188h1v1h-1zM162 188h1v1h-1zM167 188h1v1h-1zM64 189h1v1h-1zM160 189h2v1h-2zM166 189h1v1h-1zM65 190h1v1h-1zM159 190h1v1h-1zM165 190h1v1h-1zM66 191h2v1h-2zM126 191h2v1h-2zM125 192h1v1h-1zM149 192h1v1h-1zM113 193h1v1h-1zM147 193h2v1h-2zM150 193h2v1h-2zM114 194h1v1h-1zM152 194h1v1h-1zM115 195h1v1h-1zM123 195h1v1h-1zM153 195h1v1h-1zM156 195h1v1h-1zM70 196h5v1h-5zM78 196h3v1h-3zM111 196h1v1h-1zM116 196h1v1h-1zM121 196h2v1h-2zM154 196h2v1h-2zM75 197h3v1h-3zM81 197h2v1h-2zM109 197h2v1h-2zM117 197h1v1h-1zM120 197h1v1h-1zM83 198h5v1h-5zM98 198h1v1h-1zM108 198h1v1h-1zM118 198h2v1h-2zM174 198h2v1h-2zM88 199h1v1h-1zM96 199h2v1h-2zM99 199h1v1h-1zM105 199h3v1h-3zM89 200h7v1h-7zM100 200h1v1h-1zM104 200h1v1h-1zM101 201h3v1h-3zM184 202h2v1h-2zM178 203h1v1h-1zM182 203h2v1h-2zM179 204h3v1h-3z" fill="#ff0000" stroke="none"/>
<path d="M69 369v3h1v-3zM70 366v3h1v-3zM112 362v2h1v-2zM117 362v2h1v-2zM128 361v2h1v-2zM129 360v2h1v-2zM130 362v4h1v-4zM131 366v3h1v-3zM138 365v2h1v-2zM145 365v2h1v-2zM146 363v2h1v-2zM147 361v2h1v-2zM149 360v2h1v-2zM150 362v2h1v-2zM159 361v2h1v-2zM161 364v2h1v-2zM162 366v2h1v-2zM163 367v2h1v-2zM164 365v2h1v-2zM168 365v2h1v-2zM169 367v2h1v-2zM172 364v2h1v-2zM176 361v2h1v-2zM178 358v2h1v-2zM193 358v2h1v-2zM194 360v2h1v-2zM195 362v3h1v-3zM196 365v2h1v-2zM198 368v2h1v-2zM199 370v4h1v-4zM200 374v8h1v-8zM201 382v5h1v-5zM205 389v2h1v-2zM206 391v2h1v-2zM207 393v2h1v-2zM215 396v2h1v-2zM248 414v2h1v-2zM249 416v2h1v-2zM259 420v4h1v-4zM260 420v2h1v-2zM261 422v2h1v-2zM266 423v2h1v-2zM271 426v2h1v-2zM279 429v2h1v-2zM280 431v2h1v-2zM287 433v2h1v-2zM331 431v2h1v-2zM356 420v2h1v-2zM371 415v2h1v-2zM374 411v2h1v-2zM394 406v3h1v-3zM395 409v6h1v-6zM396 415v3h1v-3zM398 412v6h1v-6zM399 404v8h1v-8zM400 392v12h1v-12zM401 384v8h1v-8zM402 380v4h1v-4zM403 377v3h1v-3zM404 373v4h1v-4zM405 369v4h1v-4zM406 364v5h1v-5zM407 359v5h1v-5zM408 356v3h1v-3zM409 354v2h1v-2zM410 352v2h1v-2zM411 350v2h1v-2zM412 348v2h1v-2zM431 348v3h1v-3zM432 351v4h1v-4zM433 355v4h1v-4zM434 359v2h1v-2zM435 361v2h1v-2zM436 363v2h1v-2zM439 365v2h1v-2zM440 362v3h1v-3zM441 360v2h1v-2zM451 356v2h1v-2zM454 356v2h1v-2zM460 356v2h1v-2zM463 354v3h1v-3zM464 352v2h1v-2zM468 351v2h1v-2zM469 353v2h1v-2zM470 355v3h1v-3zM471 358v3h1v-3zM474 359v2h1v-2zM475 358v2h1v-2zM477 361v2h1v-2zM478 363v2h1v-2zM479 365v3h1v-3zM480 368v5h1v-5zM481 373v4h1v-4zM482 377v2h1v-2zM483 379v2h1v-2zM415 346h2v1h-2zM413 347h2v1h-2zM417 347h7v1h-7zM430 347h1v1h-1zM424 348h6v1h-6zM466 350h2v1h-2zM465 351h1v1h-1zM188 355h3v1h-3zM450 355h1v1h-1zM186 356h2v1h-2zM191 356h1v1h-1zM445 356h5v1h-5zM179 357h2v1h-2zM182 357h2v1h-2zM185 357h1v1h-1zM192 357h1v1h-1zM444 357h1v1h-1zM453 357h1v1h-1zM458 357h2v1h-2zM462 357h1v1h-1zM156 358h1v1h-1zM181 358h1v1h-1zM184 358h1v1h-1zM443 358h1v1h-1zM452 358h1v1h-1zM455 358h3v1h-3zM461 358h1v1h-1zM155 359h1v1h-1zM157 359h1v1h-1zM442 359h1v1h-1zM96 360h2v1h-2zM102 360h4v1h-4zM107 360h1v1h-1zM148 360h1v1h-1zM154 360h1v1h-1zM158 360h1v1h-1zM177 360h1v1h-1zM472 360h1v1h-1zM476 360h1v1h-1zM90 361h6v1h-6zM98 361h2v1h-2zM101 361h1v1h-1zM106 361h1v1h-1zM108 361h1v1h-1zM118 361h8v1h-8zM153 361h1v1h-1zM473 361h1v1h-1zM89 362h1v1h-1zM100 362h1v1h-1zM109 362h2v1h-2zM126 362h1v1h-1zM152 362h1v1h-1zM76 363h1v1h-1zM83 363h6v1h-6zM111 363h1v1h-1zM127 363h1v1h-1zM151 363h1v1h-1zM160 363h1v1h-1zM166 363h1v1h-1zM173 363h3v1h-3zM75 364h1v1h-1zM77 364h6v1h-6zM113 364h4v1h-4zM139 364h1v1h-1zM165 364h1v1h-1zM167 364h1v1h-1zM71 365h2v1h-2zM74 365h1v1h-1zM140 365h1v1h-1zM437 365h2v1h-2zM73 366h1v1h-1zM133 366h2v1h-2zM136 366h2v1h-2zM141 366h1v1h-1zM171 366h1v1h-1zM132 367h1v1h-1zM135 367h1v1h-1zM142 367h1v1h-1zM144 367h1v1h-1zM170 367h1v1h-1zM197 367h1v1h-1zM143 368h1v1h-1zM62 371h2v1h-2zM65 371h4v1h-4zM61 372h1v1h-1zM64 372h1v1h-1zM202 387h2v1h-2zM204 388h1v1h-1zM208 395h2v1h-2zM210 396h5v1h-5zM216 398h3v1h-3zM219 399h1v1h-1zM220 400h1v1h-1zM221 401h1v1h-1zM222 402h1v1h-1zM223 403h1v1h-1zM224 404h2v1h-2zM392 404h1v1h-1zM226 405h1v1h-1zM391 405h1v1h-1zM393 405h1v1h-1zM227 406h5v1h-5zM380 406h11v1h-11zM232 407h1v1h-1zM379 407h1v1h-1zM233 408h1v1h-1zM378 408h1v1h-1zM234 409h2v1h-2zM376 409h2v1h-2zM236 410h1v1h-1zM375 410h1v1h-1zM237 411h1v1h-1zM243 411h1v1h-1zM238 412h5v1h-5zM244 412h1v1h-1zM245 413h2v1h-2zM373 413h1v1h-1zM247 414h1v1h-1zM372 414h1v1h-1zM250 415h1v1h-1zM251 416h1v1h-1zM252 417h1v1h-1zM363 417h8v1h-8zM397 417h1v1h-1zM253 418h5v1h-5zM358 418h5v1h-5zM258 419h1v1h-1zM357 419h1v1h-1zM263 422h3v1h-3zM350 422h6v1h-6zM262 423h1v1h-1zM349 423h1v1h-1zM348 424h1v1h-1zM267 425h1v1h-1zM270 425h1v1h-1zM347 425h1v1h-1zM268 426h2v1h-2zM342 426h5v1h-5zM341 427h1v1h-1zM272 428h5v1h-5zM278 428h1v1h-1zM337 428h4v1h-4zM277 429h1v1h-1zM336 429h1v1h-1zM332 430h4v1h-4zM318 431h1v1h-1zM327 431h1v1h-1zM317 432h1v1h-1zM319 432h2v1h-2zM326 432h1v1h-1zM328 432h2v1h-2zM281 433h5v1h-5zM300 433h2v1h-2zM312 433h5v1h-5zM321 433h5v1h-5zM330 433h1v1h-1zM286 434h1v1h-1zM292 434h8v1h-8zM302 434h10v1h-10zM288 435h2v1h-2zM291 435h1v1h-1zM290 436h1v1h-1z" fill="#ff0000" stroke="none"/>
</g>
<g fill="#ff0000" shape-rendering="crispEdges">
<path d="M578 342h34v3h-34zM635 342h28v3h-28zM666 342h3v3h-3zM567 352h14v3h-14zM609 352h28v3h-28zM667 352h7v3h-7zM676 352h26v3h-26zM671 362h7v3h-7zM663 381h5v4h-5zM676 352h30v3h-30zM697 362h3v3h-3zM704 362h11v3h-11zM763 362h4v3h-4zM773 371h17v4h-17zM791 371h7v4h-7zM713 381h3v4h-3zM725 381h8v4h-8zM770 381h5v4h-5zM779 381h7v4h-7zM788 381h5v4h-5zM714 392h4v3h-4zM720 392h5v3h-5zM730 392h11v3h-11zM750 392h3v3h-3zM764 392h8v3h-8zM717 401h5v4h-5zM723 401h4v4h-4zM728 401h3v4h-3zM747 401h3v4h-3zM716 411h3v4h-3zM739 411h4v4h-4zM751 411h4v4h-4zM742 421h5v4h-5zM748 421h4v4h-4zM753 421h6v4h-6zM741 431h3v4h-3zM745 431h4v4h-4zM754 431h11v4h-11zM900 362h4v3h-4zM791 371h7v4h-7zM804 371h22v4h-22zM908 371h10v4h-10zM795 381h11v4h-11zM813 381h7v4h-7zM823 381h16v4h-16zM841 381h7v4h-7zM852 381h3v4h-3zM858 381h3v4h-3zM810 392h4v3h-4zM832 392h4v3h-4zM837 392h9v3h-9zM849 392h9v3h-9zM861 392h10v3h-10zM846 401h5v4h-5zM853 401h9v4h-9zM866 401h13v4h-13zM887 401h5v4h-5zM893 411h8v4h-8zM877 421h3v4h-3zM892 421h3v4h-3zM878 431h11v4h-11zM890 431h3v4h-3zM884 441h4v4h-4zM881 451h4v3h-4zM937 362h4v3h-4zM908 371h11v4h-11zM933 371h14v4h-14zM951 371h7v4h-7zM961 371h11v4h-11zM986 371h6v4h-6zM899 381h3v4h-3zM903 381h5v4h-5zM912 381h15v4h-15zM930 381h5v4h-5zM945 381h10v4h-10zM956 381h7v4h-7zM970 381h18v4h-18zM902 392h3v3h-3zM906 392h4v3h-4zM920 392h3v3h-3zM925 392h7v3h-7zM923 401h3v4h-3zM896 411h5v4h-5zM661 431h4v4h-4z"/>
</g>
<g shape-rendering="crispEdges" fill="none" stroke-width="1">
<path d="M60.5 248V89.5H485.5V249" stroke="#000"/>
<path d="M60 228.5h1M60 208.5h1M60 189.5h1M60 169.5h1M60 149.5h1M60 129.5h1M60 109.5h1" stroke="#c4c4c4"/>
<path d="M566.5 248V89.5H992.5V249" stroke="#000"/>
<path d="M60.5 482V323.5H485.5V483" stroke="#000"/>
<path d="M60 466.5h1M60 450.5h1M60 434.5h1M60 418.5h1M60 403.5h1M60 387.5h1M60 371.5h1M60 355.5h1M60 339.5h1" stroke="#c4c4c4"/>
<path d="M566.5 482V323.5H992.5V483" stroke="#000"/>
<path d="M60.5 716V557.5H485.5V717" stroke="#000"/>
<path d="M60 700.5h1M60 684.5h1M60 668.5h1M60 652.5h1M60 636.5h1M60 620.5h1M60 605.5h1M60 589.5h1M60 573.5h1" stroke="#c4c4c4"/>
<path d="M566.5 716V557.5H992.5V717" stroke="#000"/>
<path d="M61 716.5H485" stroke="#ff0000"/>
</g>
<g opacity="0.999">
<text x="300" y="23" font-size="17.7" textLength="333.5" lengthAdjust="spacingAndGlyphs">Ghost Mine Ranch Weather Observations:</text>
<text x="636.6" y="23" font-size="17.7" textLength="126.2" lengthAdjust="spacingAndGlyphs">11/10/15 11:55p</text>
<text x="272.85" y="74" text-anchor="middle" class="h" textLength="191.4" lengthAdjust="spacingAndGlyphs">Temperature and Dewpoint</text>
<text x="53.3" y="254" text-anchor="end" class="t" textLength="15.4" lengthAdjust="spacingAndGlyphs">10</text>
<text x="492.2" y="254" class="t" textLength="15.4" lengthAdjust="spacingAndGlyphs">10</text>
<text x="53.3" y="234" text-anchor="end" class="t" textLength="15.4" lengthAdjust="spacingAndGlyphs">15</text>
<text x="492.2" y="234" class="t" textLength="15.4" lengthAdjust="spacingAndGlyphs">15</text>
<text x="53.3" y="214" text-anchor="end" class="t" textLength="15.4" lengthAdjust="spacingAndGlyphs">20</text>
<text x="492.2" y="214" class="t" textLength="15.4" lengthAdjust="spacingAndGlyphs">20</text>
<text x="53.3" y="194" text-anchor="end" class="t" textLength="15.4" lengthAdjust="spacingAndGlyphs">25</text>
<text x="492.2" y="194" class="t" textLength="15.4" lengthAdjust="spacingAndGlyphs">25</text>
<text x="53.3" y="174" text-anchor="end" class="t" textLength="15.4" lengthAdjust="spacingAndGlyphs">30</text>
<text x="492.2" y="174" class="t" textLength="15.4" lengthAdjust="spacingAndGlyphs">30</text>
<text x="53.3" y="154" text-anchor="end" class="t" textLength="15.4" lengthAdjust="spacingAndGlyphs">35</text>
<text x="492.2" y="154" class="t" textLength="15.4" lengthAdjust="spacingAndGlyphs">35</text>
<text x="53.3" y="134" text-anchor="end" class="t" textLength="15.4" lengthAdjust="spacingAndGlyphs">40</text>
<text x="492.2" y="134" class="t" textLength="15.4" lengthAdjust="spacingAndGlyphs">40</text>
<text x="53.3" y="114" text-anchor="end" class="t" textLength="15.4" lengthAdjust="spacingAndGlyphs">45</text>
<text x="492.2" y="114" class="t" textLength="15.4" lengthAdjust="spacingAndGlyphs">45</text>
<text x="53.3" y="95" text-anchor="end" class="t" textLength="15.4" lengthAdjust="spacingAndGlyphs">50</text>
<text x="492.2" y="95" class="t" textLength="15.4" lengthAdjust="spacingAndGlyphs">50</text>
<text x="60.5" y="266" text-anchor="middle" class="t">0</text>
<text x="95.5" y="266" text-anchor="middle" class="t">2</text>
<text x="131.5" y="266" text-anchor="middle" class="t">4</text>
<text x="166.5" y="266" text-anchor="middle" class="t">6</text>
<text x="201.5" y="266" text-anchor="middle" class="t">8</text>
<text x="237.5" y="266" text-anchor="middle" class="t" textLength="15.4" lengthAdjust="spacingAndGlyphs">10</text>
<text x="272.5" y="266" text-anchor="middle" class="t" textLength="15.4" lengthAdjust="spacingAndGlyphs">12</text>
<text x="308.5" y="266" text-anchor="middle" class="t" textLength="15.4" lengthAdjust="spacingAndGlyphs">14</text>
<text x="343.5" y="266" text-anchor="middle" class="t" textLength="15.4" lengthAdjust="spacingAndGlyphs">16</text>
<text x="379.5" y="266" text-anchor="middle" class="t" textLength="15.4" lengthAdjust="spacingAndGlyphs">18</text>
<text x="414.5" y="266" text-anchor="middle" class="t" textLength="15.4" lengthAdjust="spacingAndGlyphs">20</text>
<text x="450.5" y="266" text-anchor="middle" class="t" textLength="15.4" lengthAdjust="spacingAndGlyphs">22</text>
<text x="485.5" y="266" text-anchor="middle" class="t" textLength="15.4" lengthAdjust="spacingAndGlyphs">24</text>
<text transform="translate(34.6 170) rotate(-90)" text-anchor="middle" class="y" textLength="67" lengthAdjust="spacingAndGlyphs">Fahrenheit</text>
<text x="779.55" y="74" text-anchor="middle" class="h" textLength="196.8" lengthAdjust="spacingAndGlyphs">Wind Speed and Peak Gust</text>
<text x="560.3" y="254" text-anchor="end" class="t">0</text>
<text x="999.2" y="254" class="t">0</text>
<text x="560.3" y="234" text-anchor="end" class="t">5</text>
<text x="999.2" y="234" class="t">5</text>
<text x="560.3" y="214" text-anchor="end" class="t" textLength="15.4" lengthAdjust="spacingAndGlyphs">10</text>
<text x="999.2" y="214" class="t" textLength="15.4" lengthAdjust="spacingAndGlyphs">10</text>
<text x="560.3" y="194" text-anchor="end" class="t" textLength="15.4" lengthAdjust="spacingAndGlyphs">15</text>
<text x="999.2" y="194" class="t" textLength="15.4" lengthAdjust="spacingAndGlyphs">15</text>
<text x="560.3" y="174" text-anchor="end" class="t" textLength="15.4" lengthAdjust="spacingAndGlyphs">20</text>
<text x="999.2" y="174" class="t" textLength="15.4" lengthAdjust="spacingAndGlyphs">20</text>
<text x="560.3" y="154" text-anchor="end" class="t" textLength="15.4" lengthAdjust="spacingAndGlyphs">25</text>
<text x="999.2" y="154" class="t" textLength="15.4" lengthAdjust="spacingAndGlyphs">25</text>
<text x="560.3" y="134" text-anchor="end" class="t" textLength="15.4" lengthAdjust="spacingAndGlyphs">30</text>
<text x="999.2" y="134" class="t" textLength="15.4" lengthAdjust="spacingAndGlyphs">30</text>
<text x="560.3" y="114" text-anchor="end" class="t" textLength="15.4" lengthAdjust="spacingAndGlyphs">35</text>
<text x="999.2" y="114" class="t" textLength="15.4" lengthAdjust="spacingAndGlyphs">35</text>
<text x="560.3" y="95" text-anchor="end" class="t" textLength="15.4" lengthAdjust="spacingAndGlyphs">40</text>
<text x="999.2" y="95" class="t" textLength="15.4" lengthAdjust="spacingAndGlyphs">40</text>
<text x="566.5" y="266" text-anchor="middle" class="t">0</text>
<text x="602.5" y="266" text-anchor="middle" class="t">2</text>
<text x="637.5" y="266" text-anchor="middle" class="t">4</text>
<text x="673.5" y="266" text-anchor="middle" class="t">6</text>
<text x="708.5" y="266" text-anchor="middle" class="t">8</text>
<text x="744.5" y="266" text-anchor="middle" class="t" textLength="15.4" lengthAdjust="spacingAndGlyphs">10</text>
<text x="779.5" y="266" text-anchor="middle" class="t" textLength="15.4" lengthAdjust="spacingAndGlyphs">12</text>
<text x="814.5" y="266" text-anchor="middle" class="t" textLength="15.4" lengthAdjust="spacingAndGlyphs">14</text>
<text x="850.5" y="266" text-anchor="middle" class="t" textLength="15.4" lengthAdjust="spacingAndGlyphs">16</text>
<text x="885.5" y="266" text-anchor="middle" class="t" textLength="15.4" lengthAdjust="spacingAndGlyphs">18</text>
<text x="921.5" y="266" text-anchor="middle" class="t" textLength="15.4" lengthAdjust="spacingAndGlyphs">20</text>
<text x="956.5" y="266" text-anchor="middle" class="t" textLength="15.4" lengthAdjust="spacingAndGlyphs">22</text>
<text x="992.5" y="266" text-anchor="middle" class="t" textLength="15.4" lengthAdjust="spacingAndGlyphs">24</text>
<text transform="translate(541.4 169.15) rotate(-90)" text-anchor="middle" class="y" textLength="64.7" lengthAdjust="spacingAndGlyphs">miles/hour</text>
<text x="272.5" y="308" text-anchor="middle" class="h" textLength="122.4" lengthAdjust="spacingAndGlyphs">Relative Humidity</text>
<text x="53.3" y="487" text-anchor="end" class="t">0</text>
<text x="492.2" y="487" class="t">0</text>
<text x="53.3" y="472" text-anchor="end" class="t" textLength="15.4" lengthAdjust="spacingAndGlyphs">10</text>
<text x="492.2" y="472" class="t" textLength="15.4" lengthAdjust="spacingAndGlyphs">10</text>
<text x="53.3" y="456" text-anchor="end" class="t" textLength="15.4" lengthAdjust="spacingAndGlyphs">20</text>
<text x="492.2" y="456" class="t" textLength="15.4" lengthAdjust="spacingAndGlyphs">20</text>
<text x="53.3" y="440" text-anchor="end" class="t" textLength="15.4" lengthAdjust="spacingAndGlyphs">30</text>
<text x="492.2" y="440" class="t" textLength="15.4" lengthAdjust="spacingAndGlyphs">30</text>
<text x="53.3" y="424" text-anchor="end" class="t" textLength="15.4" lengthAdjust="spacingAndGlyphs">40</text>
<text x="492.2" y="424" class="t" textLength="15.4" lengthAdjust="spacingAndGlyphs">40</text>
<text x="53.3" y="408" text-anchor="end" class="t" textLength="15.4" lengthAdjust="spacingAndGlyphs">50</text>
<text x="492.2" y="408" class="t" textLength="15.4" lengthAdjust="spacingAndGlyphs">50</text>
<text x="53.3" y="392" text-anchor="end" class="t" textLength="15.4" lengthAdjust="spacingAndGlyphs">60</text>
<text x="492.2" y="392" class="t" textLength="15.4" lengthAdjust="spacingAndGlyphs">60</text>
<text x="53.3" y="376" text-anchor="end" class="t" textLength="15.4" lengthAdjust="spacingAndGlyphs">70</text>
<text x="492.2" y="376" class="t" textLength="15.4" lengthAdjust="spacingAndGlyphs">70</text>
<text x="53.3" y="360" text-anchor="end" class="t" textLength="15.4" lengthAdjust="spacingAndGlyphs">80</text>
<text x="492.2" y="360" class="t" textLength="15.4" lengthAdjust="spacingAndGlyphs">80</text>
<text x="53.3" y="344" text-anchor="end" class="t" textLength="15.4" lengthAdjust="spacingAndGlyphs">90</text>
<text x="492.2" y="344" class="t" textLength="15.4" lengthAdjust="spacingAndGlyphs">90</text>
<text x="53.3" y="328" text-anchor="end" class="t" textLength="23.1" lengthAdjust="spacingAndGlyphs">100</text>
<text x="492.2" y="328" class="t" textLength="23.1" lengthAdjust="spacingAndGlyphs">100</text>
<text x="60.5" y="500" text-anchor="middle" class="t">0</text>
<text x="95.5" y="500" text-anchor="middle" class="t">2</text>
<text x="131.5" y="500" text-anchor="middle" class="t">4</text>
<text x="166.5" y="500" text-anchor="middle" class="t">6</text>
<text x="201.5" y="500" text-anchor="middle" class="t">8</text>
<text x="237.5" y="500" text-anchor="middle" class="t" textLength="15.4" lengthAdjust="spacingAndGlyphs">10</text>
<text x="272.5" y="500" text-anchor="middle" class="t" textLength="15.4" lengthAdjust="spacingAndGlyphs">12</text>
<text x="308.5" y="500" text-anchor="middle" class="t" textLength="15.4" lengthAdjust="spacingAndGlyphs">14</text>
<text x="343.5" y="500" text-anchor="middle" class="t" textLength="15.4" lengthAdjust="spacingAndGlyphs">16</text>
<text x="379.5" y="500" text-anchor="middle" class="t" textLength="15.4" lengthAdjust="spacingAndGlyphs">18</text>
<text x="414.5" y="500" text-anchor="middle" class="t" textLength="15.4" lengthAdjust="spacingAndGlyphs">20</text>
<text x="450.5" y="500" text-anchor="middle" class="t" textLength="15.4" lengthAdjust="spacingAndGlyphs">22</text>
<text x="485.5" y="500" text-anchor="middle" class="t" textLength="15.4" lengthAdjust="spacingAndGlyphs">24</text>
<text transform="translate(34.4 403.25) rotate(-90)" text-anchor="middle" class="y" textLength="47.9" lengthAdjust="spacingAndGlyphs">Percent</text>
<text x="779.9" y="311" text-anchor="middle" class="h" textLength="103.65" lengthAdjust="spacingAndGlyphs">Wind Direction</text>
<text x="560.3" y="487" text-anchor="end" class="t">0</text>
<text x="998.2" y="487" class="t">N</text>
<text x="560.3" y="468" text-anchor="end" class="t" textLength="15.4" lengthAdjust="spacingAndGlyphs">45</text>
<text x="998.2" y="468" class="t">NE</text>
<text x="560.3" y="448" text-anchor="end" class="t" textLength="15.4" lengthAdjust="spacingAndGlyphs">90</text>
<text x="998.2" y="448" class="t">E</text>
<text x="560.3" y="428" text-anchor="end" class="t" textLength="23.1" lengthAdjust="spacingAndGlyphs">135</text>
<text x="998.2" y="428" class="t">SE</text>
<text x="560.3" y="408" text-anchor="end" class="t" textLength="23.1" lengthAdjust="spacingAndGlyphs">180</text>
<text x="998.2" y="408" class="t">S</text>
<text x="560.3" y="388" text-anchor="end" class="t" textLength="23.1" lengthAdjust="spacingAndGlyphs">225</text>
<text x="998.2" y="388" class="t">SW</text>
<text x="560.3" y="368" text-anchor="end" class="t" textLength="23.1" lengthAdjust="spacingAndGlyphs">270</text>
<text x="998.2" y="368" class="t">W</text>
<text x="560.3" y="348" text-anchor="end" class="t" textLength="23.1" lengthAdjust="spacingAndGlyphs">315</text>
<text x="998.2" y="348" class="t">NW</text>
<text x="560.3" y="328" text-anchor="end" class="t" textLength="23.1" lengthAdjust="spacingAndGlyphs">360</text>
<text x="998.2" y="328" class="t">N</text>
<text x="566.5" y="500" text-anchor="middle" class="t">0</text>
<text x="602.5" y="500" text-anchor="middle" class="t">2</text>
<text x="637.5" y="500" text-anchor="middle" class="t">4</text>
<text x="673.5" y="500" text-anchor="middle" class="t">6</text>
<text x="708.5" y="500" text-anchor="middle" class="t">8</text>
<text x="744.5" y="500" text-anchor="middle" class="t" textLength="15.4" lengthAdjust="spacingAndGlyphs">10</text>
<text x="779.5" y="500" text-anchor="middle" class="t" textLength="15.4" lengthAdjust="spacingAndGlyphs">12</text>
<text x="814.5" y="500" text-anchor="middle" class="t" textLength="15.4" lengthAdjust="spacingAndGlyphs">14</text>
<text x="850.5" y="500" text-anchor="middle" class="t" textLength="15.4" lengthAdjust="spacingAndGlyphs">16</text>
<text x="885.5" y="500" text-anchor="middle" class="t" textLength="15.4" lengthAdjust="spacingAndGlyphs">18</text>
<text x="921.5" y="500" text-anchor="middle" class="t" textLength="15.4" lengthAdjust="spacingAndGlyphs">20</text>
<text x="956.5" y="500" text-anchor="middle" class="t" textLength="15.4" lengthAdjust="spacingAndGlyphs">22</text>
<text x="992.5" y="500" text-anchor="middle" class="t" textLength="15.4" lengthAdjust="spacingAndGlyphs">24</text>
<text transform="translate(530 402.9) rotate(-90)" text-anchor="middle" class="y" textLength="51.8" lengthAdjust="spacingAndGlyphs">degrees</text>
<text x="272.95" y="545" text-anchor="middle" class="h" textLength="305.6" lengthAdjust="spacingAndGlyphs">24 hour Accumulated Rainfall or Snow Melt</text>
<text x="53.3" y="721" text-anchor="end" class="t" textLength="27.21" lengthAdjust="spacingAndGlyphs">0.00</text>
<text x="53.3" y="705" text-anchor="end" class="t" textLength="27.21" lengthAdjust="spacingAndGlyphs">0.01</text>
<text x="53.3" y="690" text-anchor="end" class="t" textLength="27.21" lengthAdjust="spacingAndGlyphs">0.02</text>
<text x="53.3" y="674" text-anchor="end" class="t" textLength="27.21" lengthAdjust="spacingAndGlyphs">0.03</text>
<text x="53.3" y="658" text-anchor="end" class="t" textLength="27.21" lengthAdjust="spacingAndGlyphs">0.04</text>
<text x="53.3" y="642" text-anchor="end" class="t" textLength="27.21" lengthAdjust="spacingAndGlyphs">0.05</text>
<text x="53.3" y="626" text-anchor="end" class="t" textLength="27.21" lengthAdjust="spacingAndGlyphs">0.06</text>
<text x="53.3" y="610" text-anchor="end" class="t" textLength="27.21" lengthAdjust="spacingAndGlyphs">0.07</text>
<text x="53.3" y="594" text-anchor="end" class="t" textLength="27.21" lengthAdjust="spacingAndGlyphs">0.08</text>
<text x="53.3" y="578" text-anchor="end" class="t" textLength="27.21" lengthAdjust="spacingAndGlyphs">0.09</text>
<text x="53.3" y="562" text-anchor="end" class="t" textLength="27.21" lengthAdjust="spacingAndGlyphs">0.10</text>
<text x="60.5" y="733" text-anchor="middle" class="t">0</text>
<text x="95.5" y="733" text-anchor="middle" class="t">2</text>
<text x="131.5" y="733" text-anchor="middle" class="t">4</text>
<text x="166.5" y="733" text-anchor="middle" class="t">6</text>
<text x="201.5" y="733" text-anchor="middle" class="t">8</text>
<text x="237.5" y="733" text-anchor="middle" class="t" textLength="15.4" lengthAdjust="spacingAndGlyphs">10</text>
<text x="272.5" y="733" text-anchor="middle" class="t" textLength="15.4" lengthAdjust="spacingAndGlyphs">12</text>
<text x="308.5" y="733" text-anchor="middle" class="t" textLength="15.4" lengthAdjust="spacingAndGlyphs">14</text>
<text x="343.5" y="733" text-anchor="middle" class="t" textLength="15.4" lengthAdjust="spacingAndGlyphs">16</text>
<text x="379.5" y="733" text-anchor="middle" class="t" textLength="15.4" lengthAdjust="spacingAndGlyphs">18</text>
<text x="414.5" y="733" text-anchor="middle" class="t" textLength="15.4" lengthAdjust="spacingAndGlyphs">20</text>
<text x="450.5" y="733" text-anchor="middle" class="t" textLength="15.4" lengthAdjust="spacingAndGlyphs">22</text>
<text x="485.5" y="733" text-anchor="middle" class="t" textLength="15.4" lengthAdjust="spacingAndGlyphs">24</text>
<text transform="translate(21.9 636.88) rotate(-90)" text-anchor="middle" class="y" textLength="39.25" lengthAdjust="spacingAndGlyphs">Inches</text>
<text x="273.45" y="750" text-anchor="middle" class="h" textLength="123" lengthAdjust="spacingAndGlyphs">Local Time (hour)</text>
<text x="779.25" y="545" text-anchor="middle" class="h" textLength="112.4" lengthAdjust="spacingAndGlyphs">Solar Irradiance</text>
<text x="560.3" y="721" text-anchor="end" class="t">0</text>
<text x="560.3" y="704" text-anchor="end" class="t" textLength="23.1" lengthAdjust="spacingAndGlyphs">100</text>
<text x="560.3" y="686" text-anchor="end" class="t" textLength="23.1" lengthAdjust="spacingAndGlyphs">200</text>
<text x="560.3" y="668" text-anchor="end" class="t" textLength="23.1" lengthAdjust="spacingAndGlyphs">300</text>
<text x="560.3" y="651" text-anchor="end" class="t" textLength="23.1" lengthAdjust="spacingAndGlyphs">400</text>
<text x="560.3" y="633" text-anchor="end" class="t" textLength="23.1" lengthAdjust="spacingAndGlyphs">500</text>
<text x="560.3" y="615" text-anchor="end" class="t" textLength="23.1" lengthAdjust="spacingAndGlyphs">600</text>
<text x="560.3" y="598" text-anchor="end" class="t" textLength="23.1" lengthAdjust="spacingAndGlyphs">700</text>
<text x="560.3" y="580" text-anchor="end" class="t" textLength="23.1" lengthAdjust="spacingAndGlyphs">800</text>
<text x="560.3" y="562" text-anchor="end" class="t" textLength="23.1" lengthAdjust="spacingAndGlyphs">900</text>
<text x="566.5" y="733" text-anchor="middle" class="t">0</text>
<text x="602.5" y="733" text-anchor="middle" class="t">2</text>
<text x="637.5" y="733" text-anchor="middle" class="t">4</text>
<text x="673.5" y="733" text-anchor="middle" class="t">6</text>
<text x="708.5" y="733" text-anchor="middle" class="t">8</text>
<text x="744.5" y="733" text-anchor="middle" class="t" textLength="15.4" lengthAdjust="spacingAndGlyphs">10</text>
<text x="779.5" y="733" text-anchor="middle" class="t" textLength="15.4" lengthAdjust="spacingAndGlyphs">12</text>
<text x="814.5" y="733" text-anchor="middle" class="t" textLength="15.4" lengthAdjust="spacingAndGlyphs">14</text>
<text x="850.5" y="733" text-anchor="middle" class="t" textLength="15.4" lengthAdjust="spacingAndGlyphs">16</text>
<text x="885.5" y="733" text-anchor="middle" class="t" textLength="15.4" lengthAdjust="spacingAndGlyphs">18</text>
<text x="921.5" y="733" text-anchor="middle" class="t" textLength="15.4" lengthAdjust="spacingAndGlyphs">20</text>
<text x="956.5" y="733" text-anchor="middle" class="t" textLength="15.4" lengthAdjust="spacingAndGlyphs">22</text>
<text x="992.5" y="733" text-anchor="middle" class="t" textLength="15.4" lengthAdjust="spacingAndGlyphs">24</text>
<text transform="translate(533.1 653.8) rotate(-90)" class="y"><tspan textLength="28.8" lengthAdjust="spacingAndGlyphs">W/m</tspan><tspan font-size="9.5" dy="-7.2" dx="0.3">2</tspan></text>
</g>
</svg></body></html>
